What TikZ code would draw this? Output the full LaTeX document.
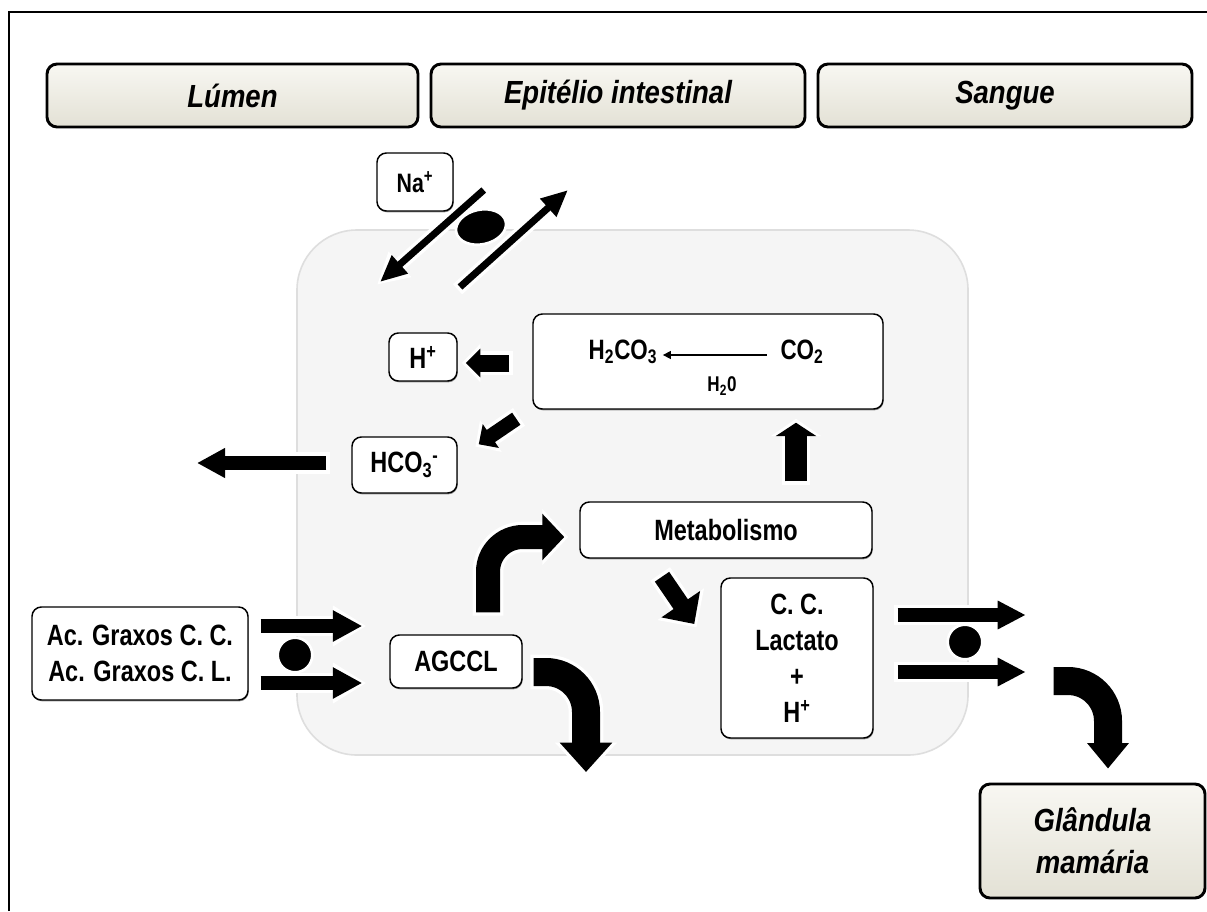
\documentclass[tikz,border=0pt]{standalone}
\usepackage{fontspec}
\setmainfont{Liberation Sans}[FakeStretch=0.8]
\newfontfamily\hdrfont{Liberation Sans}[FakeStretch=0.86]
\usetikzlibrary{arrows.meta,shapes.geometric,calc,shadows}
\definecolor{hdrtop}{HTML}{F8F7F2}
\definecolor{hdrbot}{HTML}{E3E1D5}
\definecolor{cellbg}{HTML}{F5F5F5}
\definecolor{celledge}{HTML}{DEDEDE}
\newcommand\fatarrow[4]{%
  \pgfmathsetlengthmacro\fwA{#1+5pt}%
  \pgfmathsetlengthmacro\fwB{#2+7pt}%
  \pgfmathsetlengthmacro\fwC{#3+3pt}%
  \draw[white, line width=\fwA, shorten >=-3pt, shorten <=-2.5pt, -{Triangle[width=\fwB, length=\fwC]}] #4;
  \draw[black, line width=#1, -{Triangle[width=#2, length=#3]}] #4;
}
\tikzset{
  box/.style={draw=black, line width=1.1pt, fill=white, rounded corners=7pt, align=center, inner sep=0pt,
    font=\bfseries\fontsize{22}{27}\selectfont,
    drop shadow={shadow xshift=0.5pt, shadow yshift=-1pt, fill=black!70, opacity=0.6}},
  hdr/.style={draw=black, line width=2.2pt, rounded corners=7.5pt, top color=hdrtop, bottom color=hdrbot,
    inner sep=0pt, align=center, font=\hdrfont\bfseries\itshape\fontsize{24}{31.5}\selectfont},
  cellbox/.style={draw=celledge, line width=1.2pt, fill=cellbg, rounded corners=45pt, inner sep=0pt},
  blob/.style={fill=black, draw=white, line width=2pt, inner sep=0pt},
  chem/.style={font=\bfseries\fontsize{21}{24}\selectfont, inner sep=1pt},
}
\begin{document}
\begin{tikzpicture}[x=0.75pt,y=-0.75pt]
\useasboundingbox (0,0) rectangle (1207,911);
\fill[white] (0,0) rectangle (1207,911);
\draw[line width=2.2pt] (9,911) -- (9,12) -- (1207,12);

% headers
\node[hdr, minimum width=278.25pt, minimum height=47.25pt] (lumen) at (232.5,95.5) {Lúmen};
\node[hdr, minimum width=280.5pt, minimum height=47.25pt] (epit) at (618,95.5) {Epitélio intestinal};
\node[hdr, minimum width=280.5pt, minimum height=47.25pt] (sangue) at (1005,95.5) {Sangue};

% cell
\node[cellbox, minimum width=503.25pt, minimum height=393.75pt] (cell) at (632.5,492.5) {};

% boxes
\node[box, minimum width=57pt, minimum height=43.5pt, font=\bfseries\fontsize{20}{24}\selectfont] (na) at (415,182) {Na\textsuperscript{+}};
\node[box, minimum width=262.5pt, minimum height=71.25pt] (h2box) at (708,361.5) {};
\node[box, minimum width=51pt, minimum height=36pt] (hplus) at (423,357) {H\textsuperscript{+}};
\node[box, minimum width=78.75pt, minimum height=42pt] (hco3) at (404.5,465) {HCO\textsubscript{3}\textsuperscript{-}};
\node[box, minimum width=219pt, minimum height=42pt] (metab) at (726,530) {Metabolismo};
\node[box, minimum width=114pt, minimum height=120pt] (cc) at (797,658) {C. C.\\Lactato\\+\\H\textsuperscript{+}};
\node[box, minimum width=99pt, minimum height=39.75pt] (agccl) at (456,661.5) {AGCCL};
\node[box, minimum width=162pt, minimum height=69.75pt] (acgr) at (140,653.5) {Ac. Graxos C. C.\\Ac. Graxos C. L.};
\node[hdr, minimum width=168.75pt, minimum height=85.5pt] (gland) at (1092.5,841) {Glândula\\mamária};

% chemistry inside the box
\node[chem] (h2t) at (623,352) {H\textsubscript{2}CO\textsubscript{3}};
\node[chem] (co2t) at (802,352) {CO\textsubscript{2}};
\node[font=\bfseries\fontsize{16}{18}\selectfont, inner sep=1pt] (h2o) at (722,386) {H\textsubscript{2}0};
\draw[line width=0.9pt, -{Triangle[width=6pt,length=6pt]}] ($(co2t.west)+(-12,3)$) -- ($(h2t.east)+(4,3)$);

% Na exchanger
\coordinate (naA) at (380,282);
\coordinate (naB) at (460,287);
\coordinate (naC) at (568,190);
\fatarrow{5.25pt}{17pt}{20pt}{($(na.east)+(30,8)$) -- (naA)}
\fatarrow{5.25pt}{17pt}{20pt}{(naB) -- (naC)}
\node[blob, ellipse, minimum width=38pt, minimum height=26pt, rotate=12] (nael) at (481,227) {};

% H2CO3 -> H+ and HCO3-
\fatarrow{12.75pt}{21pt}{11pt}{($(h2box.west)+(-23,1.5)$) -- ($(hplus.east)+(8,6)$)}
\fatarrow{11pt}{21pt}{11pt}{($(h2box.south west)+(-16,9)$) -- ($(hco3.north east)+(21,8)$)}
\coordinate (hcout) at (197,463);
\fatarrow{11pt}{21pt}{21pt}{($(hco3.west)+(-25,-2)$) -- (hcout)}

% Metabolismo -> CO2 box
\fatarrow{16.5pt}{30pt}{10pt}{($(metab.north)+(70,-20)$) -- ($(h2box.south)+(88,13)$)}
% AGCCL -> Metabolismo
\fatarrow{18pt}{34pt}{16.5pt}{[rounded corners=26pt] ($(agccl.north)+(32,-22)$) |- ($(metab.west)+(-15,7)$)}
% Metabolismo -> C.C.
\fatarrow{13pt}{34pt}{18pt}{($(metab.south)+(-64,18)$) -- ($(cc.west)+(-26,-34)$)}
% AGCCL -> down
\fatarrow{21pt}{38pt}{22pt}{[rounded corners=30pt] ($(agccl.east)+(11,10.5)$) -| (586,772)}

% left transport
\fatarrow{10pt}{22pt}{22pt}{($(acgr.east)+(12,-27.5)$) -- ($(agccl.west |- acgr.east)+(-27,-27.5)$)}
\fatarrow{10pt}{22pt}{22pt}{($(acgr.east)+(12,29.5)$) -- ($(agccl.west |- acgr.east)+(-27,29.5)$)}
\node[blob, circle, minimum size=26pt] (lcirc) at (295,655) {};

% right transport
\fatarrow{10pt}{20pt}{21pt}{($(cc.east)+(24,-43)$) -- ($(cc.east)+(152,-43)$)}
\fatarrow{10pt}{20pt}{21pt}{($(cc.east)+(24,14)$) -- ($(cc.east)+(152,14)$)}
\node[blob, circle, minimum size=26pt] (rcirc) at (965,642) {};

% to mammary gland
\fatarrow{21pt}{30pt}{19pt}{[rounded corners=30pt] ($(cc.east)+(180,23)$) -| ($(gland.north)+(15.5,-14)$)}
\end{tikzpicture}
\end{document}
